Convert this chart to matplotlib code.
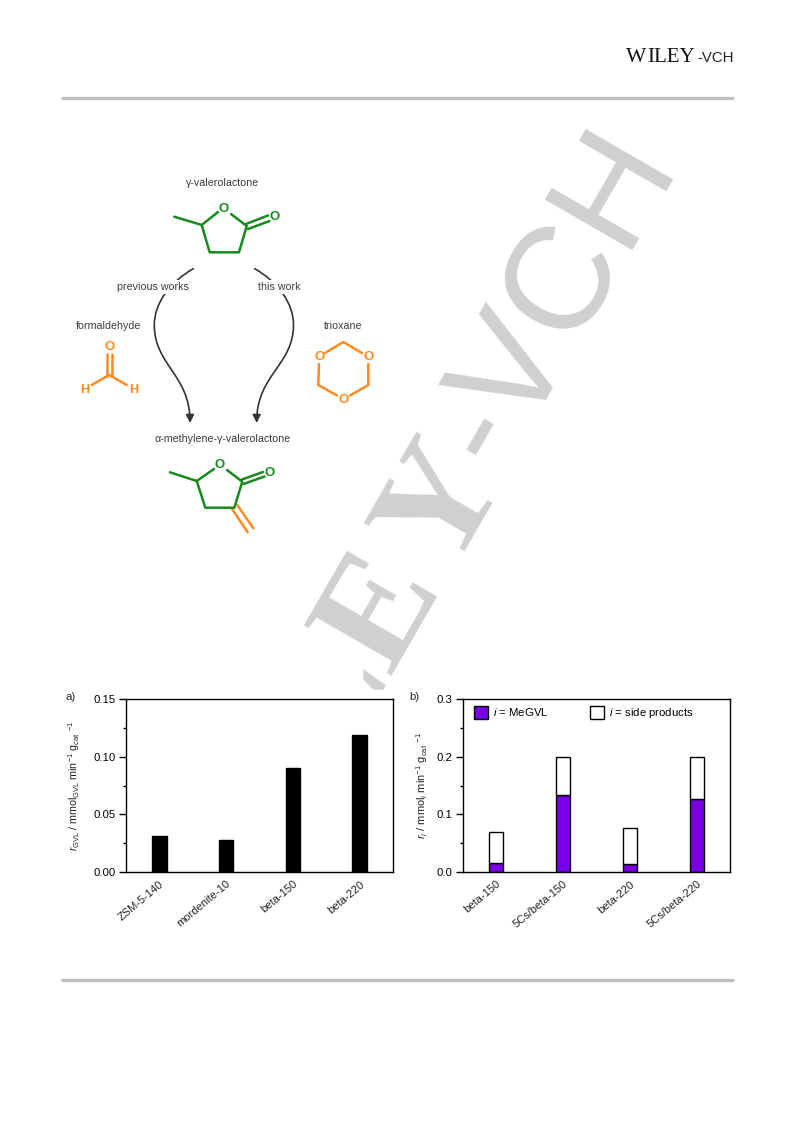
"""
plot.py - page with reaction scheme and two rate bar charts (a, b).
Saves out.png at 793x1121 px.
"""

import matplotlib
matplotlib.use("Agg")
import matplotlib.pyplot as plt
from matplotlib.patches import FancyArrowPatch, Patch, Rectangle
from matplotlib.path import Path

plt.rcParams["font.family"] = ["Liberation Sans", "DejaVu Sans"]
plt.rcParams["mathtext.fontset"] = "custom"
plt.rcParams["mathtext.rm"] = "Liberation Sans"
plt.rcParams["mathtext.it"] = "Liberation Sans:italic"
plt.rcParams["mathtext.default"] = "regular"

W, H = 793, 1121
GREEN = "#178a1e"
ORANGE = "#ff8a1f"
PURPLE = "#7a00e6"
RULE = "#c0c0c0"
MARK = "#d0d0d0"
LABEL = "#3c3c3c"

# chart a
catalysts_a = ["ZSM-5-140", "mordenite-10", "beta-150", "beta-220"]
rate_gvl = [0.031, 0.028, 0.090, 0.119]

# chart b
catalysts_b = ["beta-150", "5Cs/beta-150", "beta-220", "5Cs/beta-220"]
rate_megvl = [0.016, 0.133, 0.014, 0.126]
rate_side = [0.053, 0.067, 0.062, 0.073]


def add_chart(fig, left, top, right, bottom):
    ax = fig.add_axes([left / W, 1 - bottom / H, (right - left) / W, (bottom - top) / H])
    for spine in ax.spines.values():
        spine.set_linewidth(1.0)
    ax.set_xlim(-0.5, 3.5)
    ax.tick_params(axis="x", length=0, pad=5, labelsize=8.0)
    ax.tick_params(axis="y", which="major", length=5, width=1.0, pad=2.5, labelsize=8.2)
    ax.tick_params(axis="y", which="minor", length=2.4, width=1.0)
    return ax


def set_cat_labels(ax, labels):
    ax.set_xticks(range(len(labels)))
    ax.set_xticklabels(labels, rotation=40, ha="right", va="top", rotation_mode="anchor",
                       color="#222222")


def bond(page, xs, ys, color=GREEN, lw=1.8):
    page.plot(xs, ys, color=color, linewidth=lw, solid_capstyle="round", zorder=3)


def atom(page, x, y, s, color=GREEN, size=9.5):
    page.text(x, y, s, color=color, fontsize=size, ha="center", va="center", zorder=4,
              fontweight="bold")


def curved_arrow(page, verts):
    codes = [Path.MOVETO] + [Path.CURVE4] * (len(verts) - 1)
    arrow = FancyArrowPatch(path=Path(verts, codes), arrowstyle="-|>,head_length=3,head_width=1.5",
                            color="#333333", linewidth=1.2, mutation_scale=1.6, zorder=2,
                            shrinkA=0, shrinkB=0)
    page.add_patch(arrow)


def draw_page(page):
    # rules and logo
    page.plot([61, 734], [98, 98], color=RULE, linewidth=2.4, solid_capstyle="butt")
    page.plot([61, 734], [980, 980], color=RULE, linewidth=2.4, solid_capstyle="butt")
    page.text(626, 62.5, "W", family="Liberation Serif", fontsize=15.5, va="baseline", color="#111111")
    page.text(647, 62.5, "ILEY", family="Liberation Serif", fontsize=15, va="baseline", color="#111111")
    page.text(734, 62.5, "-VCH", fontsize=10.8, ha="right", va="baseline", color="#222222")

    # watermark, partly hidden by the white figure blocks
    page.text(505, 478, "Y", family="Liberation Serif", fontweight="bold", fontsize=111, color=MARK,
              rotation=60, rotation_mode="anchor", ha="right", va="baseline", zorder=0.5)
    page.text(441, 586, "LE", family="Liberation Serif", fontweight="bold", fontsize=111, color=MARK,
              rotation=60, rotation_mode="anchor", ha="right", va="baseline", zorder=0.5)
    page.text(677, 163, "-VCH", fontsize=105, color=MARK,
              rotation=60, rotation_mode="anchor", ha="right", va="baseline", zorder=0.5)
    page.add_patch(Rectangle((60, 125), 241, 565, color="white", zorder=1))
    page.add_patch(Rectangle((60, 662), 302, 30, color="white", zorder=1))
    page.add_patch(Rectangle((60, 690), 675, 250, color="white", zorder=1))

    # labels
    for x, y, s in [(223, 183, "\u03b3-valerolactone"), (108.7, 325.7, "formaldehyde"),
                    (343, 326, "trioxane"), (222.3, 439.3, "\u03b1-methylene-\u03b3-valerolactone")]:
        page.text(x, y, s, fontsize=7.7, color=LABEL, ha="center", va="center", zorder=4)
    box = dict(facecolor="white", edgecolor="none", pad=1.5)
    page.text(152.7, 287, "previous works", fontsize=7.7, color=LABEL, ha="center", va="center",
              zorder=4, bbox=box)
    page.text(279, 287, "this work", fontsize=7.7, color=LABEL, ha="center", va="center",
              zorder=4, bbox=box)

    # arrows
    curved_arrow(page, [(193.3, 268.7), (170, 282), (154.3, 303), (154.3, 325),
                        (154.3, 365), (190, 375), (190, 423)])
    curved_arrow(page, [(254.7, 268.7), (278, 282), (293.5, 303), (293.5, 325),
                        (293.5, 365), (256.7, 375), (256.7, 423)])

    # gamma-valerolactone
    bond(page, [174.3, 201.7, 209.7, 239, 246.7, 231], [216.7, 225, 252.3, 252.3, 226, 214])
    bond(page, [201.7, 218], [225, 212])
    bond(page, [246, 268], [224, 215.5])
    bond(page, [248, 269.5], [229, 221])
    atom(page, 224, 208.7, "O")
    atom(page, 274.5, 217, "O")

    # formaldehyde
    bond(page, [106.8, 106.8], [354, 376], ORANGE)
    bond(page, [111.8, 111.8], [354, 376], ORANGE)
    bond(page, [91.7, 109.3, 126.7], [385, 375, 385], ORANGE)
    atom(page, 109.3, 347.3, "O", ORANGE)
    atom(page, 84.3, 390, "H", ORANGE, size=9)
    atom(page, 134, 390, "H", ORANGE, size=9)

    # trioxane
    bond(page, [325, 343.3, 362], [353, 342, 353], ORANGE)
    bond(page, [319, 318.3, 337], [364, 385, 395.5], ORANGE)
    bond(page, [368.3, 368.3, 350], [364, 385, 395.5], ORANGE)
    atom(page, 319.3, 357, "O", ORANGE)
    atom(page, 368.3, 357, "O", ORANGE)
    atom(page, 343.3, 399.6, "O", ORANGE)

    # alpha-methylene-gamma-valerolactone
    bond(page, [231.7, 247.7], [508.3, 532.3], ORANGE)
    bond(page, [237.3, 253.3], [505, 528.3], ORANGE)
    bond(page, [170, 196.7, 205.3, 234.3, 242.3, 227], [472.3, 481, 507.7, 507.7, 481.7, 470])
    bond(page, [196.7, 214], [481, 469])
    bond(page, [242, 263], [479.5, 472])
    bond(page, [243.5, 264.5], [484, 476.5])
    atom(page, 220, 465, "O")
    atom(page, 269.7, 472.7, "O")

    # panel letters
    page.text(71, 697, "a)", fontsize=8.2, ha="center", va="center", color="#222222", zorder=4)
    page.text(414, 697, "b)", fontsize=8.2, ha="center", va="center", color="#222222", zorder=4)


def main():
    fig = plt.figure(figsize=(W / 100, H / 100), dpi=100)

    page = fig.add_axes([0, 0, 1, 1], zorder=0)
    page.set_xlim(0, W)
    page.set_ylim(H, 0)
    page.axis("off")
    draw_page(page)

    x = range(4)

    ax_a = add_chart(fig, 126, 699, 393, 872)
    ax_a.bar(x, rate_gvl, width=0.22, color="black", edgecolor="black", linewidth=1.0)
    ax_a.set_ylim(0, 0.15)
    ax_a.set_yticks([0.0, 0.05, 0.10, 0.15])
    ax_a.set_yticklabels(["0.00", "0.05", "0.10", "0.15"])
    ax_a.set_yticks([0.025, 0.075, 0.125], minor=True)
    set_cat_labels(ax_a, catalysts_a)
    ax_a.set_ylabel(r"$\mathit{r}_{GVL}$ / mmol$_{GVL}$ min$^{-1}$ g$_{cat}$ $^{-1}$",
                    fontsize=7.7, color="#222222", labelpad=8)

    ax_b = add_chart(fig, 463, 699, 730, 872)
    ax_b.bar(x, rate_megvl, width=0.21, color=PURPLE, edgecolor="black", linewidth=1.0)
    ax_b.bar(x, rate_side, width=0.21, bottom=rate_megvl, color="white",
             edgecolor="black", linewidth=1.0)
    ax_b.set_ylim(0, 0.3)
    ax_b.set_yticks([0.0, 0.1, 0.2, 0.3])
    ax_b.set_yticks([0.05, 0.15, 0.25], minor=True)
    set_cat_labels(ax_b, catalysts_b)
    ax_b.set_ylabel(r"$\mathit{r}_{\mathit{i}}$ / mmol$_{\mathit{i}}$ min$^{-1}$ g$_{cat}$ $^{-1}$",
                    fontsize=7.9, color="#222222", labelpad=5)
    handles = [Patch(facecolor=PURPLE, edgecolor="black", linewidth=1.0),
               Patch(facecolor="white", edgecolor="black", linewidth=1.0)]
    ax_b.legend(handles, [r"$\mathit{i}$ = MeGVL", r"$\mathit{i}$ = side products"],
                ncol=2, frameon=False, fontsize=8.2, loc="upper left",
                bbox_to_anchor=(0.012, 1.0), borderaxespad=0.25,
                handlelength=1.25, handleheight=1.3, handletextpad=0.45, columnspacing=3.6)

    fig.savefig("out.png", dpi=100)
    plt.close(fig)


if __name__ == "__main__":
    main()
